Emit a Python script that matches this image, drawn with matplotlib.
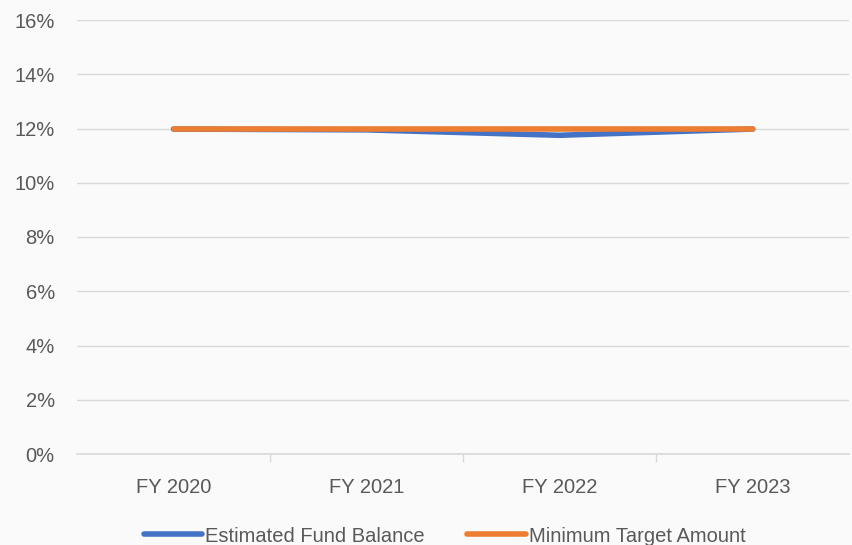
import matplotlib
matplotlib.use("Agg")
import matplotlib.pyplot as plt
from matplotlib.ticker import FuncFormatter, FixedLocator
from matplotlib.lines import Line2D

years = ["FY 2020", "FY 2021", "FY 2022", "FY 2023"]
fund_balance = [0.1198, 0.1195, 0.1175, 0.1198]
min_target = [0.120, 0.120, 0.120, 0.120]

BLUE = "#4472c4"
ORANGE = "#ed7d31"
TXT = "#595959"
GRID = "#d9d9d9"

plt.rcParams["font.family"] = ["Liberation Sans Narrow", "Liberation Sans", "DejaVu Sans"]

fig = plt.figure(figsize=(8.52, 5.45), dpi=100, facecolor="#fafafa")
ax = fig.add_axes([77 / 852, 1 - 454 / 545, 772 / 852, 434 / 545])
ax.set_facecolor("none")

x = list(range(len(years)))
ax.plot(x, fund_balance, color=BLUE, lw=4.0, solid_capstyle="round", zorder=3)
ax.plot(x, min_target, color=ORANGE, lw=4.0, solid_capstyle="round", zorder=4)

ax.set_xlim(-0.5, len(years) - 0.5)
ax.set_ylim(0, 0.16)
ax.set_yticks([i / 100 for i in range(0, 17, 2)])
ax.yaxis.set_major_formatter(FuncFormatter(lambda v, _: f"{v * 100:.0f}%"))
ax.grid(axis="y", color=GRID, lw=1.0, zorder=0)
ax.set_axisbelow(True)

ax.set_xticks(x)
ax.set_xticklabels(years)
ax.xaxis.set_minor_locator(FixedLocator([0.5, 1.5, 2.5]))
ax.tick_params(axis="x", which="major", length=0, pad=17, labelsize=14.5, labelcolor=TXT)
ax.tick_params(axis="x", which="minor", length=6, color=GRID, width=1)
ax.tick_params(axis="y", length=0, pad=16, labelsize=14.5, labelcolor=TXT)

for s in ["top", "right", "left"]:
    ax.spines[s].set_visible(False)
ax.spines["bottom"].set_color(GRID)
ax.spines["bottom"].set_linewidth(1.2)

handles = [Line2D([], [], color=BLUE, lw=4.0, solid_capstyle="round"),
           Line2D([], [], color=ORANGE, lw=4.0, solid_capstyle="round")]
fig.legend(handles, ["Estimated Fund Balance", "Minimum Target Amount"],
           loc="center", bbox_to_anchor=(0.522, 1 - 536 / 545), ncol=2, frameon=False,
           fontsize=14.5, labelcolor=TXT, handlelength=2.9, handletextpad=0.15,
           columnspacing=2.1)

fig.savefig("out.png", dpi=100, facecolor=fig.get_facecolor())
